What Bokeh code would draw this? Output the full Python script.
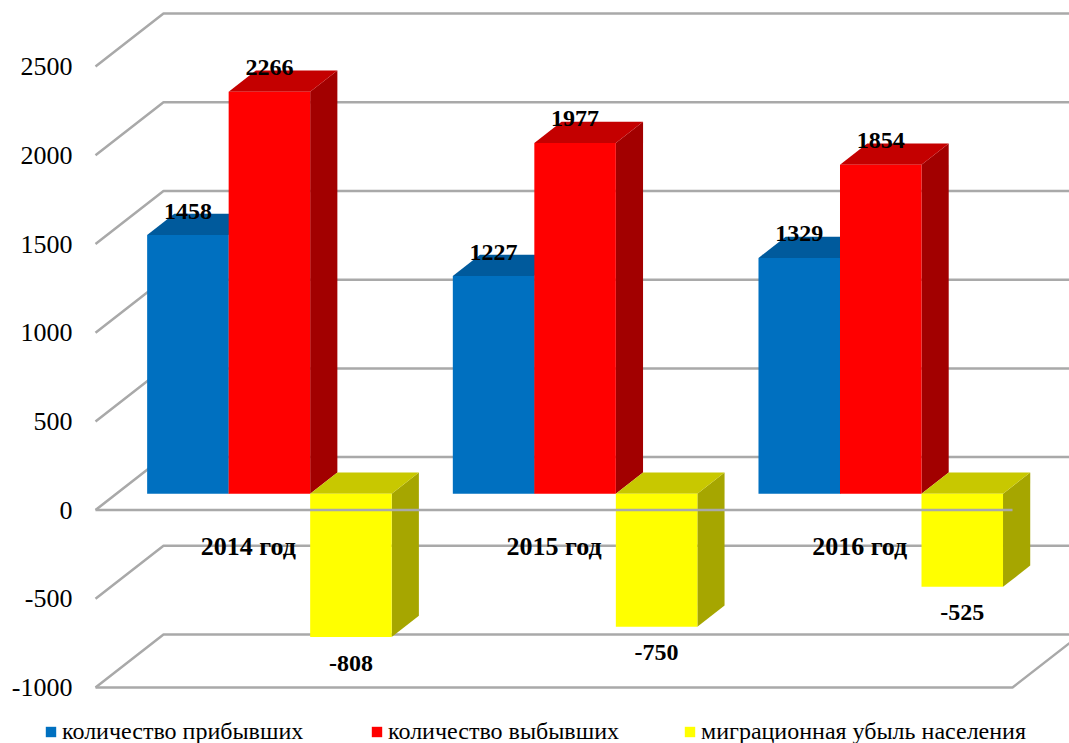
from bokeh.plotting import figure
from bokeh.models import Range1d, Legend, LegendItem
from bokeh.core.properties import value
from bokeh.embed import file_html
from bokeh.resources import INLINE

# ---------------- data ----------------
categories = ["2014 год", "2015 год", "2016 год"]
arrived = [1458, 1227, 1329]
departed = [2266, 1977, 1854]
migration_loss = [-808, -750, -525]
series_names = ["количество прибывших", "количество выбывших", "миграционная убыль населения"]
y_ticks = [-1000, -500, 0, 500, 1000, 1500, 2000, 2500]

# ---------------- layout / style ----------------
W, H = 1069, 743
ORIGIN_X = 95             # canvas px of the front-plane left edge
ZERO_Y = 509.6            # canvas px (from top) of value 0 on the front plane
PX_PER_CAT = 305.67       # px per category on the front plane
PX_PER_VAL = 0.1774       # px per value unit
DEPTH_PX = (68, 53)       # 3D depth offset in px (right, up)
BAR_FRONT, BAR_BACK = 0.31, 0.71
GROUP_W = 0.8
FONT_NAME = "'Liberation Serif', 'Times New Roman', serif"
FONT = value(FONT_NAME)

front_colors = ["#0070C0", "#FF0000", "#FFFF00"]
top_colors = ["#005A9C", "#C40000", "#C8C800"]
side_colors = ["#004C85", "#A20000", "#A6A600"]
grid_color = "#A9A9A9"

DX = DEPTH_PX[0] / PX_PER_CAT
DY = DEPTH_PX[1] / PX_PER_VAL
x_start = -ORIGIN_X / PX_PER_CAT
x_end = (W - ORIGIN_X) / PX_PER_CAT
y_top = ZERO_Y / PX_PER_VAL
y_bot = -(H - ZERO_Y) / PX_PER_VAL
n_cat = len(categories)

p = figure(width=W, height=H, x_range=Range1d(x_start, x_end), y_range=Range1d(y_bot, y_top),
           output_backend="svg", toolbar_location=None, x_axis_type=None, y_axis_type=None,
           min_border_left=0, min_border_right=0, min_border_top=0, min_border_bottom=0)
p.outline_line_color = None
p.grid.visible = False

# ---------------- grid (walls) ----------------
gx, gy = [], []
for v in y_ticks:
    gx.append([0, DX, x_end + 1])
    gy.append([v, v + DY, v + DY])
lo = y_ticks[0]
gx.append([0, n_cat, n_cat + DX])
gy.append([lo, lo, lo + DY])
p.multi_line(gx, gy, line_color=grid_color, line_width=2.5)

# y tick labels
p.text([-23 / PX_PER_CAT] * len(y_ticks), y_ticks, text=[str(t) for t in y_ticks],
       text_font=FONT, text_font_size="26px", text_align="right", text_baseline="middle",
       text_color="#000000")

# ---------------- bars ----------------
series = [arrived, departed, migration_loss]
bw = GROUP_W / len(series)
a, b = BAR_FRONT, BAR_BACK

side_xs, side_ys, side_c = [], [], []
top_xs, top_ys, top_c = [], [], []
fronts = []
labels_x, labels_y, labels_t = [], [], []
for j, vals in enumerate(series):
    L, R, B, T = [], [], [], []
    for i, v in enumerate(vals):
        x0 = i + 0.5 - GROUP_W / 2 + j * bw
        x1 = x0 + bw
        lo_v, hi_v = min(0, v), max(0, v)
        L.append(x0 + a * DX); R.append(x1 + a * DX)
        B.append(lo_v + a * DY); T.append(hi_v + a * DY)
        top_xs.append([x0 + a * DX, x1 + a * DX, x1 + b * DX, x0 + b * DX])
        top_ys.append([hi_v + a * DY, hi_v + a * DY, hi_v + b * DY, hi_v + b * DY])
        top_c.append(top_colors[j])
        side_xs.append([x1 + a * DX, x1 + a * DX, x1 + b * DX, x1 + b * DX])
        side_ys.append([lo_v + a * DY, hi_v + a * DY, hi_v + b * DY, lo_v + b * DY])
        side_c.append(side_colors[j])
        labels_x.append((x0 + x1) / 2 + a * DX)
        if v >= 0:
            labels_y.append(v + a * DY + 24 / PX_PER_VAL)
        else:
            labels_y.append(v + a * DY - 26 / PX_PER_VAL)
        labels_t.append(str(v))
    fronts.append((L, R, B, T))

p.patches(side_xs, side_ys, fill_color=side_c, line_color=None)
p.patches(top_xs, top_ys, fill_color=top_c, line_color=None)
front_r = []
for j, (L, R, B, T) in enumerate(fronts):
    r = p.quad(left=L, right=R, bottom=B, top=T, fill_color=front_colors[j], line_color=None)
    front_r.append(r)

# zero line in front
p.line([0, n_cat], [0, 0], line_color=grid_color, line_width=2.5)

# labels
p.text(labels_x, labels_y, text=labels_t, text_font=FONT, text_font_style="bold",
       text_font_size="24px", text_align="center", text_baseline="middle", text_color="#000000")
p.text([i + 0.5 for i in range(n_cat)], [-36 / PX_PER_VAL] * n_cat, text=categories,
       text_font=FONT, text_font_style="bold", text_font_size="26px",
       text_align="center", text_baseline="middle", text_color="#000000")

# legend
leg_x = [44, 370, 683]
for j, name in enumerate(series_names):
    leg = Legend(items=[LegendItem(label=name, renderers=[front_r[j]])],
                 location=(leg_x[j], -2), orientation="horizontal",
                 border_line_color=None, background_fill_alpha=0, padding=0, margin=0,
                 glyph_width=13, glyph_height=13, label_standoff=5,
                 label_text_font=FONT_NAME, label_text_font_size="24px",
                 label_text_color="#000000")
    p.add_layout(leg)

open("out.html", "w").write(file_html(p, INLINE))
